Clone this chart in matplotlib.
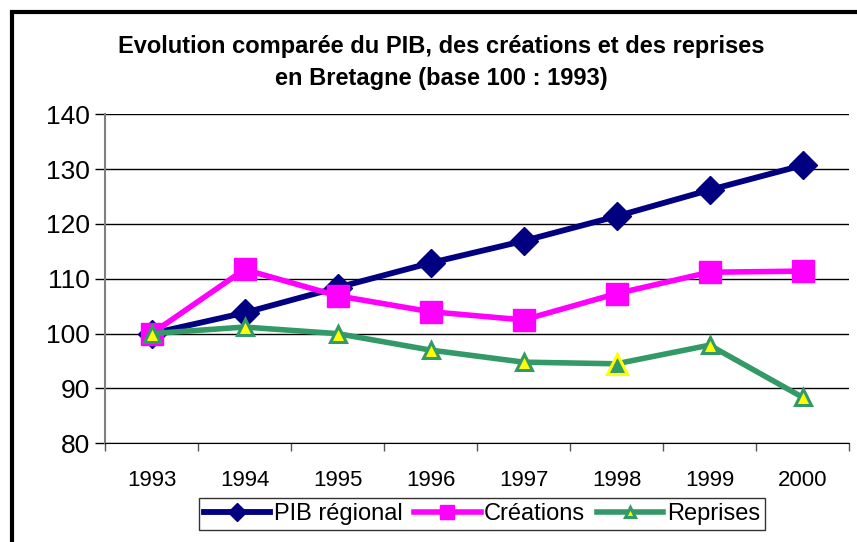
import matplotlib
matplotlib.use("Agg")
import matplotlib.pyplot as plt
from matplotlib.patches import Rectangle

plt.rcParams['font.family'] = ['Liberation Sans', 'DejaVu Sans']

years = ["1993", "1994", "1995", "1996", "1997", "1998", "1999", "2000"]
pib = [100.0, 103.8, 108.4, 112.9, 116.9, 121.4, 126.2, 130.7]
creations = [100.0, 111.7, 106.9, 104.0, 102.5, 107.3, 111.2, 111.4]
reprises = [100.0, 101.2, 100.0, 97.0, 94.8, 94.5, 97.9, 88.4]
highlight_idx = 5  # 1998 point drawn with swapped colours

navy = "#000080"
magenta = "#FF00FF"
green = "#339966"
yellow = "#FFFF00"

fig = plt.figure(figsize=(8.57, 5.42), dpi=100)
ax = fig.add_axes([105 / 857, 1 - 443.3 / 542, (849 - 105) / 857, (443.3 - 114.3) / 542])

x = list(range(len(years)))
ax.plot(x, pib, color=navy, lw=4.2, marker="D", ms=14, mfc=navy, mec=navy,
        label="PIB régional", zorder=3)
ax.plot(x, creations, color=magenta, lw=4.0, marker="s", ms=16, mfc=magenta, mec=magenta,
        label="Créations", zorder=4)
ax.plot(x, reprises, color=green, lw=4.0, marker="^", ms=11, mfc=yellow, mec=green, mew=2.2,
        label="Reprises", zorder=5)
ax.plot([x[highlight_idx]], [reprises[highlight_idx]], ls="none", marker="^", ms=14,
        mfc=green, mec=yellow, mew=2.2, zorder=6)

ax.set_ylim(80, 140)
ax.set_yticks(range(80, 141, 10))
ax.set_xlim(-0.5, len(years) - 0.5)
ax.set_xticks([i - 0.5 for i in range(len(years) + 1)])
ax.set_xticklabels([])
ax.set_xticks(x, minor=True)
ax.set_xticklabels(years, minor=True)
ax.tick_params(axis="x", which="major", direction="out", length=6, width=1, color="#555555")
ax.tick_params(axis="x", which="minor", length=0, pad=19, labelsize=16)
ax.tick_params(axis="y", direction="out", length=7, width=1, labelsize=19, pad=4)

ax.grid(axis="y", color="black", lw=1)
ax.set_axisbelow(True)
for s in ("top", "right"):
    ax.spines[s].set_visible(False)
ax.spines["left"].set_color("#808080")
ax.spines["left"].set_linewidth(1.5)
ax.spines["bottom"].set_color("black")

fig.text(441 / 857, 1 - 46 / 542, "Evolution comparée du PIB, des créations et des reprises",
         ha="center", va="center", fontsize=17, fontweight="bold")
fig.text(441 / 857, 1 - 78 / 542, "en Bretagne (base 100 : 1993)",
         ha="center", va="center", fontsize=17, fontweight="bold")

leg = fig.legend(loc="center", bbox_to_anchor=(482 / 857, 1 - 514 / 542), ncol=3,
                 fontsize=17, frameon=True, fancybox=False, edgecolor="black",
                 handlelength=2.8, handletextpad=0.15, columnspacing=0.5,
                 borderpad=0.2, borderaxespad=0, markerscale=0.65)
leg.get_frame().set_linewidth(1.0)

# outer frame, open at the right and bottom edges
fig.add_artist(Rectangle((12 / 857, -0.1), 2.0, 1.1 - 12 / 542, transform=fig.transFigure,
                         fill=False, edgecolor="black", lw=3))

fig.savefig("out.png", dpi=100)
